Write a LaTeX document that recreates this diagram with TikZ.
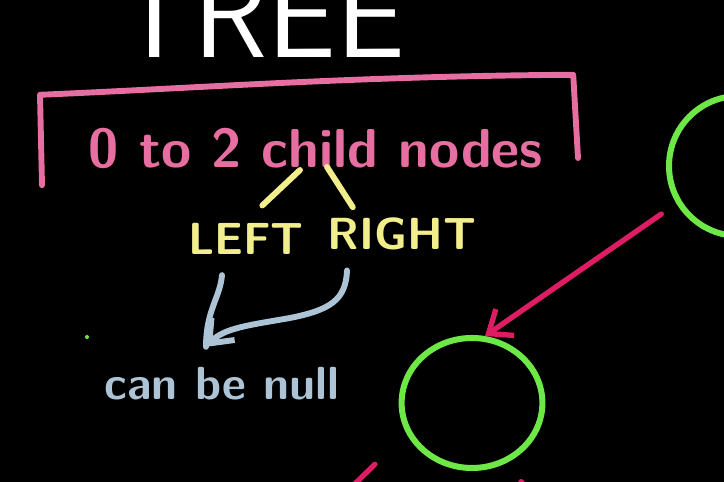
\documentclass[tikz,border=0pt]{standalone}
\usepackage{fontspec}
\usetikzlibrary{arrows.meta,positioning,shapes.geometric}
\definecolor{chalkpink}{RGB}{230,110,160}
\definecolor{chalkyellow}{RGB}{242,238,140}
\definecolor{chalkblue}{RGB}{172,196,214}
\definecolor{chalkgreen}{RGB}{110,232,70}
\definecolor{chalkred}{RGB}{222,28,100}

\begin{document}
\begin{tikzpicture}[>={Straight Barb[length=5mm,width=8mm]}, line width=4.2pt, line cap=round, line join=round,
  hand/.style={font=\fontsize{#1}{#1}\selectfont\sffamily\bfseries, inner sep=0pt, anchor=base},
  treenode/.style={draw=chalkgreen, line width=4.3pt}]
  \useasboundingbox (0,0) rectangle (18.1,12.05);
  \fill[black] (0,0) rectangle (18.1,12.05);
  \clip (0,0) rectangle (18.1,12.05);
  \node[anchor=base, inner sep=0pt, text=white, font=\fontsize{87}{90}\selectfont\sffamily] (title) at (6.5,10.6) {TREE};
  \draw[chalkpink] (1.05,7.42) -- (1.0,9.68) .. controls (5,9.85) and (9,10.15) .. (14.33,10.18) -- (14.45,8.1);
  \node[hand=39, text=chalkpink] (rule) at (7.9,7.85) {0 to 2 child nodes};
  \node[hand=32, text=chalkyellow] (leftlbl) at (6.15,5.675) {LEFT};
  \node[hand=32, text=chalkyellow] (rightlbl) at (10.05,5.8) {RIGHT};
  \node[hand=33, text=chalkblue] (nulllbl) at (5.55,2.05) {can be null};
  \coordinate (forkL) at (7.5,7.8);
  \coordinate (forkR) at (8.175,7.875);
  \draw[chalkyellow, shorten >=0.56cm] (forkL) -- (leftlbl.north);
  \draw[chalkyellow, shorten >=0.24cm] (forkR) -- ([xshift=-1.1cm]rightlbl.north);
  \coordinate (nulltip) at ([shift={(-0.4,0.45)}]nulllbl.north);
  \draw[chalkblue, ->] ([shift={(-1.375,-0.425)}]rightlbl.south) .. controls (8.65,4.55) and (8.25,4.3) .. (7.25,4.1) .. controls (6.25,3.925) and (5.6,3.85) .. (nulltip);
  \draw[chalkblue] ([shift={(-0.6,-0.43)}]leftlbl.south) .. controls (5.5,4.6) and (5.15,4.3) .. (nulltip);
  \node[treenode, circle, minimum size=3.5cm] (rootnode) at (18.475,7.9) {};
  \node[treenode, ellipse, minimum width=3.52cm, minimum height=3.25cm] (leftnode) at (11.8,1.975) {};
  \coordinate (llchild) at (7.75,-1.14);
  \coordinate (lrchild) at (13.925,-1.15);
  \draw[chalkred, line width=3.8pt, ->, shorten <=0.46cm] (rootnode.211) -- (leftnode.79);
  \draw[chalkred, line width=3.8pt, shorten <=1.1cm] (leftnode.205) -- (llchild);
  \draw[chalkred, line width=3.8pt, shorten <=0.59cm] (leftnode.300) -- (lrchild);
  \fill[chalkgreen] (2.175,3.625) circle (0.05);
\end{tikzpicture}
\end{document}
